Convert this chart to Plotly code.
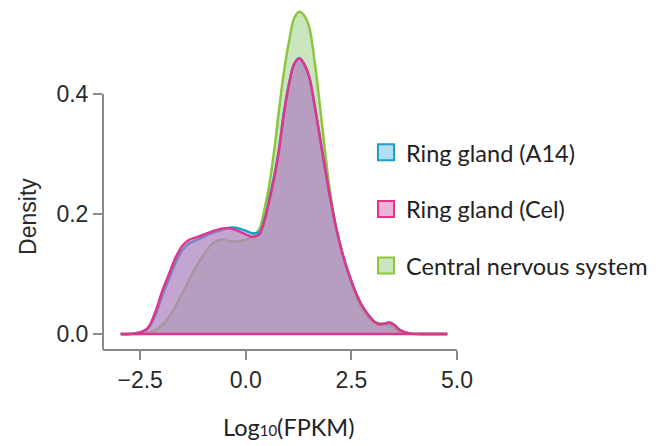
import plotly.graph_objects as go

# ---- data ----
x_grid = [-2.96, -2.6, -2.33, -2.15, -1.97, -1.8, -1.65, -1.5, -1.34, -1.18, -1.02, -0.8,
          -0.55, -0.4, -0.23, 0.0, 0.16, 0.32, 0.45, 0.56, 0.68, 0.79, 0.9, 1.03, 1.15,
          1.27, 1.38, 1.5, 1.62, 1.74, 1.86, 1.98, 2.13, 2.29, 2.45, 2.61, 2.77, 2.93,
          3.05, 3.16, 3.28, 3.40, 3.52, 3.64, 3.87, 4.2, 4.77]

dens_a14 = [0, 0.001, 0.008, 0.030, 0.065, 0.095, 0.120, 0.140, 0.151, 0.156, 0.161, 0.168,
            0.174, 0.177, 0.177, 0.172, 0.168, 0.170, 0.193, 0.227, 0.266, 0.310, 0.368, 0.420, 0.451,
            0.460, 0.450, 0.429, 0.385, 0.334, 0.283, 0.234, 0.180, 0.134, 0.098, 0.068, 0.045, 0.029,
            0.020, 0.016, 0.017, 0.019, 0.015, 0.007, 0.001, 0, 0]

dens_cel = [0, 0.001, 0.0095, 0.035, 0.073, 0.103, 0.129, 0.147, 0.157, 0.161, 0.165, 0.171,
            0.176, 0.176, 0.173, 0.166, 0.162, 0.166, 0.190, 0.223, 0.262, 0.307, 0.365, 0.418, 0.450,
            0.459, 0.450, 0.429, 0.385, 0.334, 0.283, 0.234, 0.180, 0.134, 0.098, 0.068, 0.045, 0.029,
            0.020, 0.016, 0.017, 0.019, 0.015, 0.007, 0.001, 0, 0]

dens_cns = [0, 0, 0.001, 0.006, 0.015, 0.030, 0.048, 0.068, 0.090, 0.112, 0.129, 0.150,
            0.158, 0.155, 0.154, 0.157, 0.162, 0.175, 0.210, 0.250, 0.310, 0.375, 0.435, 0.490, 0.527,
            0.537, 0.531, 0.512, 0.460, 0.390, 0.315, 0.245, 0.180, 0.132, 0.094, 0.064, 0.040, 0.025,
            0.020, 0.018, 0.017, 0.015, 0.010, 0.004, 0.001, 0, 0]

series_names = ["Ring gland (A14)", "Ring gland (Cel)", "Central nervous system"]
x_ticks = [-2.5, 0.0, 2.5, 5.0]
y_ticks = [0.0, 0.2, 0.4]

# ---- styles ----
line_cols = {"Ring gland (A14)": "#1fa0c8", "Ring gland (Cel)": "#e0358d", "Central nervous system": "#8dc63f"}
fill_cols = {"Ring gland (A14)": "rgba(100,190,225,0.5)", "Ring gland (Cel)": "rgba(215,105,175,0.5)",
             "Central nervous system": "rgba(150,205,125,0.5)"}
dens = {"Ring gland (A14)": dens_a14, "Ring gland (Cel)": dens_cel, "Central nervous system": dens_cns}

fig = go.Figure()
# drawing order: CNS first, then A14, then Cel on top
for name in ["Central nervous system", "Ring gland (A14)", "Ring gland (Cel)"]:
    fig.add_trace(go.Scatter(x=x_grid, y=dens[name], mode="lines", fill="tozeroy",
                             fillcolor=fill_cols[name],
                             line=dict(color=line_cols[name], width=2.5, shape="spline", smoothing=1),
                             showlegend=False, hoverinfo="skip"))
# baseline outline of the density polygon
fig.add_trace(go.Scatter(x=[x_grid[0], x_grid[-1]], y=[0, 0], mode="lines",
                         line=dict(color=line_cols["Ring gland (Cel)"], width=2.5),
                         showlegend=False, hoverinfo="skip"))
# legend entries
for i, name in enumerate(series_names):
    fig.add_trace(go.Scatter(x=[None], y=[None], mode="markers", name=name, legendgroup=str(i),
                             marker=dict(symbol="square", size=16, color=fill_cols[name],
                                         line=dict(color=line_cols[name], width=2))))

y_lo = -0.0267
y_hi = 0.5433
x_lo = -3.38
x_hi = 5.0005
axis_col = "#8a8a8a"
txt_col = "#2a2a2a"

fig.update_layout(
    width=651, height=438,
    margin=dict(l=95, r=202, t=0, b=96),
    paper_bgcolor="white", plot_bgcolor="white",
    xaxis=dict(range=[x_lo, x_hi], tickvals=x_ticks, tickformat=".1f", showgrid=False, zeroline=False,
               showline=False, ticks="outside", ticklen=9, tickwidth=2, tickcolor=axis_col,
               tickfont=dict(family="Liberation Sans", size=23, color=txt_col)),
    yaxis=dict(range=[y_lo, y_hi], tickvals=y_ticks, tickformat=".1f", showgrid=False, zeroline=False,
               showline=False, ticks="outside", ticklen=9, tickwidth=2, tickcolor=axis_col,
               tickfont=dict(family="Liberation Sans", size=23, color=txt_col)),
    legend=dict(x=0.743, xanchor="left", y=0.412, yanchor="middle", tracegroupgap=23,
                font=dict(family="Lato", size=23.5, color="#222222"), bgcolor="rgba(0,0,0,0)"),
    shapes=[
        dict(type="line", xref="paper", yref="y", x0=0, x1=0, y0=y_ticks[-1], y1=y_lo,
             line=dict(color=axis_col, width=2)),
        dict(type="line", xref="x", yref="paper", x0=x_lo, x1=x_ticks[-1], y0=0, y1=0,
             line=dict(color=axis_col, width=2)),
    ],
    annotations=[
        dict(text="Density", xref="paper", yref="paper", x=-0.212, y=0.392, textangle=-90,
             showarrow=False, xanchor="center", yanchor="middle",
             font=dict(family="Liberation Sans", size=23, color=txt_col)),
        dict(text="Log<span style='font-size:15px'>10</span>(FPKM)", xref="paper", yref="paper",
             x=0.5226, y=-0.225, showarrow=False, xanchor="center", yanchor="middle",
             font=dict(family="Lato", size=23.5, color="#222222")),
    ],
)

fig.write_html("out.html")
